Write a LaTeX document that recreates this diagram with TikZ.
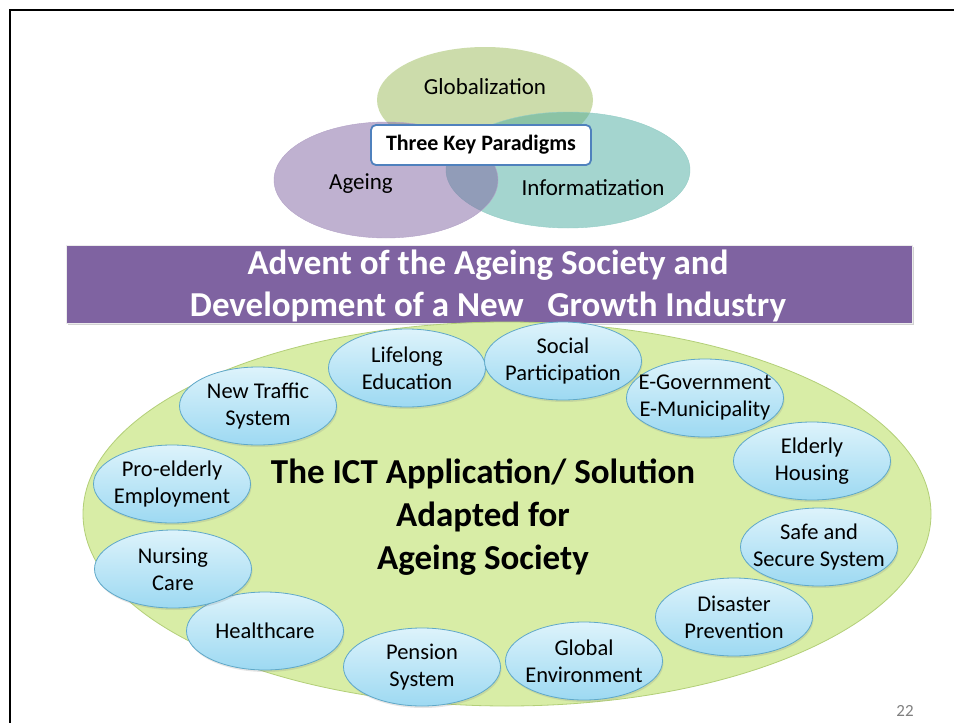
\documentclass[tikz,border=0pt]{standalone}
\usepackage{fontspec}
\setmainfont{Carlito}
\usetikzlibrary{shapes.geometric,shadows,positioning}

\definecolor{globfill}{HTML}{9BBB59}
\definecolor{agefill}{HTML}{8064A2}
\definecolor{infofill}{HTML}{4BACA0}
\definecolor{boxline}{HTML}{4F81BD}
\definecolor{bannerfill}{HTML}{7F63A1}
\definecolor{fieldfill}{HTML}{D8EDA6}
\definecolor{fieldline}{HTML}{B3CF78}
\definecolor{topictop}{HTML}{DDF3FB}
\definecolor{topicbot}{HTML}{9DD9F2}
\definecolor{topicline}{HTML}{5FA8C8}

\tikzset{
  paradigm/.style={ellipse, fill opacity=0.5, inner sep=0pt},
  paralabel/.style={font=\fontsize{23}{26}\selectfont},
  topic/.style={ellipse, draw=topicline, line width=0.8pt, top color=topictop,
    bottom color=topicbot, minimum width=157pt, minimum height=78pt,
    inner xsep=-40pt, inner ysep=-25pt, align=center,
    font=\fontsize{22.5}{27}\selectfont,
    drop shadow={opacity=0.2, shadow xshift=1pt, shadow yshift=-2pt}},
  bannertext/.style={align=center, font=\bfseries\fontsize{35}{42}\selectfont}
}

\begin{document}
\begin{tikzpicture}[x=1pt, y=-1pt]
  \useasboundingbox (0,0) rectangle (954,723);
  \fill[white] (0,0) rectangle (954,723);
  % slide frame
  \draw[line width=2.5pt] (10,723) -- (10,10) -- (954,10);

  % three paradigms
  \node[paradigm, fill=globfill, minimum width=216pt, minimum height=106pt] (glob) at (485,100) {};
  \node[paradigm, fill=infofill, draw=infofill!60!white, minimum width=244pt, minimum height=116pt] (info) at (568,170) {};
  \node[paradigm, fill=agefill, draw=agefill!60!white, minimum width=224pt, minimum height=116pt] (age) at (386,180) {};
  \node[paralabel] (globtext) at (485,87) {Globalization};
  \node[paralabel] (agetext) at (361,184) {Ageing};
  \node[paralabel] (infotext) at (593,188) {Informatization};
  \node[draw=boxline, line width=1.8pt, fill=white, rounded corners=5pt,
    minimum width=220pt, minimum height=40pt, font=\bfseries\fontsize{22}{24}\selectfont]
    (keybox) at (481,145) {Three Key Paradigms};

  % banner
  \node[fill=bannerfill, draw=white!85!gray, minimum width=846pt, minimum height=78pt,
    drop shadow={opacity=0.35, shadow xshift=2pt, shadow yshift=-2pt}] (banner) at (489,284) {};
  \node[bannertext, white] (bannerhead) at (488,286)
    {Advent of the Ageing Society and\\Development of a New \ \ Growth Industry};

  % application field
  \node[ellipse, fill=fieldfill, draw=fieldline, line width=0.8pt,
    minimum width=848pt, minimum height=384pt] (field) at (507,514) {};
  \node[align=center, font=\bfseries\fontsize{35}{43}\selectfont] (ict) at (483,517)
    {The ICT Application/ Solution\\Adapted for\\Ageing Society};

  \node[topic] (lifelong) at (407,368) {Lifelong\\Education};
  \node[topic] (social) at (563,361) {Social\\Participation};
  \node[topic] (egov) at (705,398) {E-Government\\E-Municipality};
  \node[topic] (housing) at (812,461) {Elderly\\Housing};
  \node[topic] (secure) at (819,547) {Safe and\\Secure System};
  \node[topic] (disaster) at (734,617) {Disaster\\Prevention};
  \node[topic] (globalenv) at (584,661) {Global\\Environment};
  \node[topic] (pension) at (422,667) {Pension\\System};
  \node[topic] (health) at (265,631) {Healthcare};
  \node[topic] (nursing) at (173,569) {Nursing\\Care};
  \node[topic] (employ) at (172,484) {Pro-elderly\\Employment};
  \node[topic] (traffic) at (258,406) {New Traffic\\System};

  \node[gray, font=\fontsize{17}{19}\selectfont] (pageno) at (905,711) {22};
\end{tikzpicture}
\end{document}
